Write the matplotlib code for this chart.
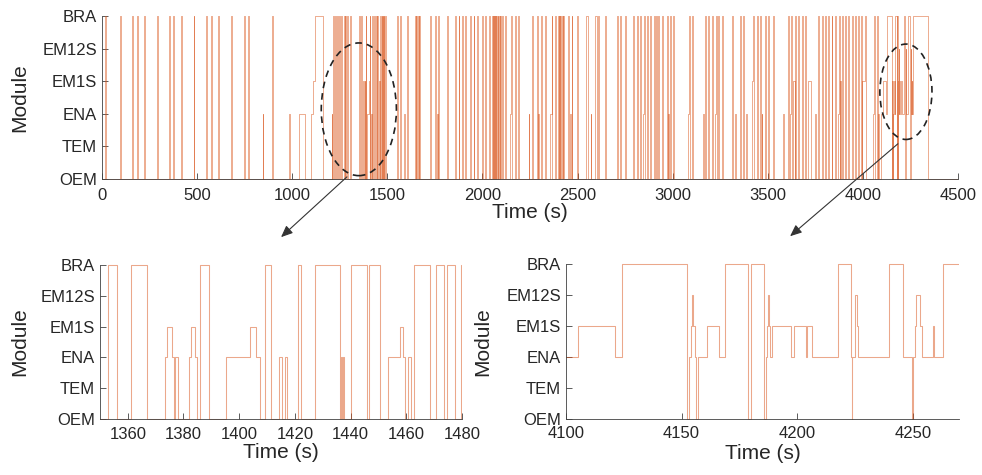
import numpy as np
import matplotlib
matplotlib.use("Agg")
import matplotlib.pyplot as plt
from matplotlib.patches import Ellipse, FancyArrowPatch

plt.rcParams['font.family'] = ['Liberation Sans', 'DejaVu Sans']

# module levels
modules = ['OEM', 'TEM', 'ENA', 'EM1S', 'EM12S', 'BRA']

# short BRA pulses in the full record (start times, s)
pulse_w = 5
bra_t = [15, 95, 160, 182, 221, 288, 353, 375, 416, 481, 547, 572, 612, 677,
         744, 765, 896,
         1214, 1226, 1233, 1245, 1258, 1270, 1277, 1290, 1302,
         1490, 1549, 1567, 1602, 1646, 1653, 1660, 1667, 1725, 1751, 1768,
         1812, 1856, 1874, 1891, 1909, 1935, 1953, 1970, 1996, 2014, 2032,
         2049, 2055, 2061, 2067, 2073, 2079, 2085, 2091, 2102, 2119, 2150,
         2172, 2189, 2260, 2286, 2310, 2328, 2363, 2381, 2398, 2404, 2410,
         2417, 2424, 2451, 2468, 2495, 2609, 2644, 2705, 2723, 2749, 2793,
         2810, 2828, 2849, 2863, 2880, 2903, 2910, 2924, 2942, 2968, 2986,
         3003, 3086, 3100, 3170, 3188, 3205, 3227, 3240, 3258, 3310, 3354,
         3372, 3424, 3441, 3458, 3485, 3502, 3528, 3607, 3623, 3643, 3660,
         3678, 3695, 3765, 3783, 3800, 3818, 3835, 3853, 3875, 3888, 3906,
         3923, 3945, 3958, 3976, 3988, 4011, 4059, 4072]

# longer BRA stays
bra_block_t = [1119, 2544, 2591]
bra_block_w = [42, 12, 10]

# ENA stays
ena_t = [844, 984, 1035, 1100, 1207, 1590, 1760, 2144, 2242, 2293, 2357,
         2459, 2568, 2845, 2977, 3082, 3161, 3223, 3328, 3386, 3467, 3581,
         3619, 3709, 3748, 3871, 3941, 4055, 4081]
ena_w = [4, 4, 33, 7, 4, 4, 4, 6, 4, 4, 6,
         4, 4, 4, 4, 4, 4, 4, 4, 4, 4, 4,
         4, 4, 4, 4, 4, 4, 4]

# EM1S stays
em1s_t = [1107, 3415, 3634, 3713, 3881, 3996]
em1s_w = [12, 9, 8, 14, 5, 15]

# detailed switching, window 1 (change times and module index)
win1_t = [1350, 1353.0, 1356.0, 1361.2, 1366.9, 1373.3, 1373.9, 1376.0,
          1376.6, 1376.9, 1378.1, 1382.0, 1382.6, 1384.2, 1385.0, 1386.1,
          1389.0, 1395.3, 1404.0, 1406.2, 1407.4, 1409.2, 1411.3, 1414.4,
          1415.3, 1416.5, 1417.3, 1421.3, 1422.3, 1427.4, 1436.3, 1436.6,
          1437.0, 1437.2, 1437.6, 1440.3, 1445.8, 1446.5, 1450.7, 1453.4,
          1457.6, 1458.8, 1459.7, 1460.6, 1461.6, 1462.8, 1468.7, 1470.7,
          1473.7, 1474.8, 1477.6, 1479.7, 1484]
win1_s = [0, 5, 0, 5, 0, 2, 3, 2,
          0, 2, 0, 2, 3, 2, 0, 5,
          0, 2, 3, 2, 0, 5, 0, 2,
          0, 2, 0, 5, 0, 5, 0, 2,
          0, 2, 0, 5, 0, 5, 0, 2,
          3, 2, 0, 2, 0, 5, 0, 5,
          0, 5, 0, 5, 0]

# detailed switching, window 2
win2_t = [4095, 4105.3, 4121.4, 4124.3, 4152.4, 4153.3, 4154.0, 4154.4,
          4155.0, 4155.6, 4156.4, 4157.1, 4161.0, 4166.1, 4168.7, 4178.7,
          4180.2, 4185.5, 4186.4, 4186.9, 4187.4, 4187.8, 4188.4, 4189.0,
          4197.2, 4198.5, 4203.6, 4204.2, 4206.2, 4217.6, 4223.4, 4223.6,
          4223.9, 4224.8, 4225.2, 4225.8, 4226.4, 4239.5, 4245.7, 4249.7,
          4250.3, 4251.0, 4251.6, 4253.3, 4254.0, 4258.6, 4259.0, 4263.0,
          4344]
win2_s = [2, 3, 2, 5, 0, 2, 3, 4,
          3, 2, 0, 2, 3, 2, 5, 0,
          5, 0, 2, 3, 4, 3, 2, 3,
          2, 3, 2, 3, 2, 5, 2, 0,
          2, 3, 4, 3, 2, 5, 2, 0,
          2, 3, 4, 3, 2, 3, 2, 5,
          0]

# build one step series
events = [(t, pulse_w, 5) for t in bra_t]
events += [(t, w, 5) for t, w in zip(bra_block_t, bra_block_w)]
events += [(t, w, 2) for t, w in zip(ena_t, ena_w)]
events += [(t, w, 3) for t, w in zip(em1s_t, em1s_w)]
events.sort()

pts = [(0, 0)]
for i, (t0, w, lev) in enumerate(events):
    pts.append((t0, lev))
    nxt = events[i + 1][0] if i + 1 < len(events) else np.inf
    if t0 + w < nxt:
        pts.append((t0 + w, 0))
pts += list(zip(win1_t, win1_s)) + list(zip(win2_t, win2_s))
pts.append((4500, 0))
pts.sort(key=lambda p: p[0])
time = np.array([p[0] for p in pts])
state = np.array([p[1] for p in pts])

line_c = '#D95319'
axis_c = '#404040'
text_c = '#262626'

fig = plt.figure(figsize=(9.82, 4.75), dpi=100)
ax_top = fig.add_axes([0.1039, 0.621, 0.8717, 0.347])
ax_l = fig.add_axes([0.1018, 0.1158, 0.3686, 0.3284])
ax_r = fig.add_axes([0.5764, 0.1158, 0.4002, 0.3305])


def style(ax, xpad, lab_x, lab_y):
    ax.set_ylim(-0.04, 5.04)
    ax.set_yticks(range(6))
    ax.set_yticklabels(modules)
    for s in ['top', 'right']:
        ax.spines[s].set_visible(False)
    ax.spines['bottom'].set_position(('data', 0))
    ax.spines['left'].set_bounds(0, 5)
    for s in ['bottom', 'left']:
        ax.spines[s].set_color(axis_c)
        ax.spines[s].set_linewidth(0.6)
    ax.tick_params(direction='in', length=4, width=0.6, color=axis_c,
                   labelcolor=text_c, labelsize=12)
    ax.tick_params(axis='y', pad=3.5)
    ax.tick_params(axis='x', pad=xpad)
    ax.set_xlabel('Time (s)', fontsize=15, color=text_c)
    ax.set_ylabel('Module', fontsize=15, color=text_c)
    ax.xaxis.set_label_coords(0.5, lab_x)
    ax.yaxis.set_label_coords(lab_y, 0.5)


ax_top.step(time, state, where='post', color=line_c, lw=0.45, alpha=0.75)
ax_top.set_xlim(0, 4500)
ax_top.set_xticks(np.arange(0, 4501, 500))
style(ax_top, 7, -0.14, -0.085)

ax_l.step(time, state, where='post', color=line_c, lw=0.75, alpha=0.5)
ax_l.set_xlim(1350, 1480)
ax_l.set_xticks(np.arange(1360, 1481, 20))
style(ax_l, 6, -0.15, -0.196)

ax_r.step(time, state, where='post', color=line_c, lw=0.75, alpha=0.5)
ax_r.set_xlim(4100, 4270)
ax_r.set_xticks([4100, 4150, 4200, 4250])
style(ax_r, 5, -0.15, -0.188)

# highlighted regions
ax_top.add_patch(Ellipse((1350, 2.14), 395, 4.09, fill=False, ec='#222222',
                         lw=1.2, ls=(0, (4, 3)), zorder=5))
ax_top.add_patch(Ellipse((4226, 2.68), 274, 2.94, fill=False, ec='#222222',
                         lw=1.2, ls=(0, (4, 3)), zorder=5))

for a, b in [((0.3554, 0.6316), (0.2841, 0.4968)),
             ((0.9165, 0.7011), (0.8024, 0.4989))]:
    fig.add_artist(FancyArrowPatch(a, b, transform=fig.transFigure,
                                   arrowstyle='-|>,head_length=0.7,head_width=0.3',
                                   mutation_scale=10, color='#333333', lw=0.8))

fig.savefig('out.png', dpi=100)
